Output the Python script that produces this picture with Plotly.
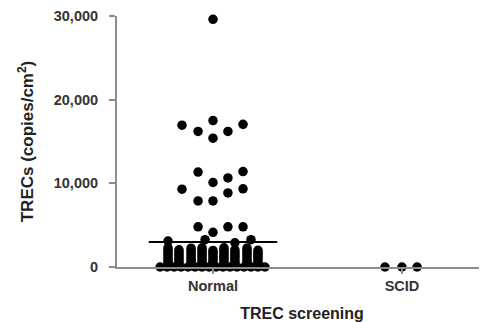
import plotly.graph_objects as go

# ---------------- data ----------------
groups = ["Normal", "SCID"]
group_pos = [0, 1]

# Normal: scattered high values (value, horizontal jitter in category units)
normal_high_values = [29600, 16950, 16200, 17500, 15400, 16200, 17050,
                      11350, 9300, 10100, 10650, 11400, 9350, 7900, 7900, 8850,
                      4800, 4150, 4800, 4800, 3270, 2900, 3270, 3100]
normal_high_jitter = [0.0, -0.164, -0.079, 0.0, 0.0, 0.079, 0.159,
                      -0.079, -0.164, 0.0, 0.079, 0.159, 0.159, -0.079, 0.0, 0.079,
                      -0.079, 0.0, 0.079, 0.159, -0.042, 0.116, 0.201, -0.238]

# Normal: dense low-value columns (each column: jitter, values)
col_jitter = [-0.238, -0.180, -0.116, -0.058, 0.0, 0.058, 0.116, 0.180, 0.238]
col_values = [
    [180, 430, 690, 950, 1210, 1480, 1740, 2010, 2300],
    [210, 470, 740, 1000, 1260, 1530, 1790, 2050],
    [160, 420, 680, 950, 1200, 1460, 1720, 1990, 2250],
    [200, 460, 720, 980, 1250, 1510, 1780, 2040, 2290],
    [170, 440, 700, 960, 1230, 1490, 1750, 1980],
    [190, 450, 710, 980, 1240, 1500, 1770, 2030, 2300],
    [220, 480, 740, 1010, 1270, 1530, 1790, 2060],
    [180, 440, 700, 970, 1230, 1490, 1760, 2020, 2270],
    [200, 460, 720, 990, 1250, 1510, 1780, 1990],
]

# Normal: values at zero
zero_jitter = [-0.280, -0.243, -0.206, -0.169, -0.132, -0.095, -0.058, -0.021,
               0.016, 0.053, 0.090, 0.127, 0.164, 0.201, 0.238, 0.275]
zero_values = [0] * len(zero_jitter)

normal_mean = 2990

# SCID
scid_values = [0, 0, 0]
scid_jitter = [-0.09, 0.0, 0.08]

y_ticks = [0, 10000, 20000, 30000]
y_ticklabels = ["0", "10,000", "20,000", "30,000"]

# ---------------- build ----------------
nx, ny = [], []
for v, j in zip(zero_values, zero_jitter):
    nx.append(group_pos[0] + j); ny.append(v)
for j, vals in zip(col_jitter, col_values):
    for v in vals:
        nx.append(group_pos[0] + j); ny.append(v)
for v, j in zip(normal_high_values, normal_high_jitter):
    nx.append(group_pos[0] + j); ny.append(v)

sx = [group_pos[1] + j for j in scid_jitter]

FONT = "Liberation Sans, Arial, sans-serif"
GRAY = "#8c8c8c"

fig = go.Figure()
fig.add_trace(go.Scatter(x=nx, y=ny, mode="markers",
                         marker=dict(size=9.5, color="black", line=dict(width=0)),
                         cliponaxis=False, showlegend=False, hoverinfo="skip"))
fig.add_trace(go.Scatter(x=sx, y=scid_values, mode="markers",
                         marker=dict(size=9.5, color="black", line=dict(width=0)),
                         cliponaxis=False, showlegend=False, hoverinfo="skip"))
fig.add_trace(go.Scatter(x=[group_pos[0] - 0.34, group_pos[0] + 0.34],
                         y=[normal_mean, normal_mean], mode="lines",
                         line=dict(color="black", width=2),
                         cliponaxis=False, showlegend=False, hoverinfo="skip"))

# page body has an 8px margin, so the figure is 8px smaller and offset by 8px
fig.update_layout(
    width=479, height=314,
    margin=dict(l=109, r=0, t=8, b=55),
    plot_bgcolor="white", paper_bgcolor="white",
    font=dict(family=FONT, color="#333333"),
)
fig.update_xaxes(
    range=[-0.508, 1.45], tickmode="array", tickvals=group_pos, ticktext=groups,
    showline=True, linecolor=GRAY, linewidth=2, ticks="outside", ticklen=5,
    tickcolor=GRAY, tickwidth=1.5, showgrid=False, zeroline=False,
    tickfont=dict(size=14.5, family=FONT, weight="bold", color="#333333"),
    title=dict(text="TREC screening", font=dict(size=16, family=FONT, weight="bold",
                                                 color="#222222"), standoff=19),
    automargin=False,
)
fig.update_yaxes(
    range=[0, 30000], tickmode="array", tickvals=y_ticks, ticktext=y_ticklabels,
    showline=True, linecolor=GRAY, linewidth=2, ticks="outside", ticklen=6,
    tickcolor=GRAY, tickwidth=2, showgrid=False, zeroline=False,
    tickfont=dict(size=14.5, family=FONT, weight="bold", color="#333333"),
    ticklabelstandoff=8,
    title=dict(text="TRECs (copies/cm<sup>2</sup>)",
               font=dict(size=17, family=FONT, weight="bold", color="#222222"),
               standoff=16),
    automargin=False,
)

fig.write_html("out.html")
